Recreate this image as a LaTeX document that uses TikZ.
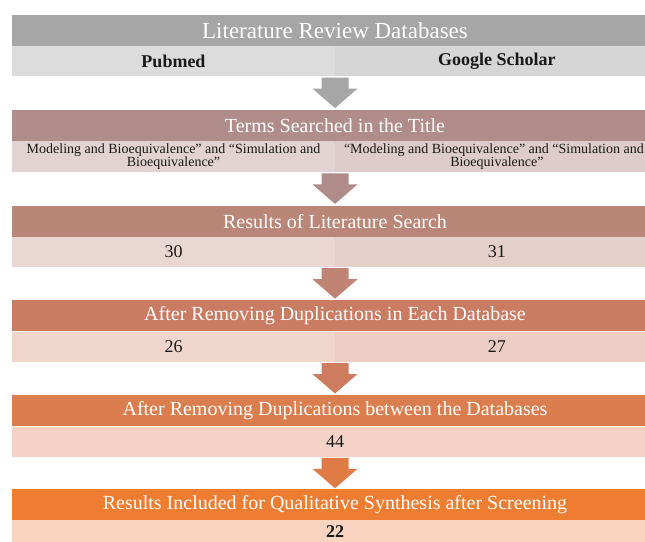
\documentclass[tikz,border=0pt]{standalone}
\usepackage{fontspec}
\setmainfont{Liberation Serif}
\usetikzlibrary{positioning}

\definecolor{headA}{HTML}{A6A6A6}
\definecolor{headB}{HTML}{B08D8B}
\definecolor{headC}{HTML}{B98677}
\definecolor{headD}{HTML}{CA7C63}
\definecolor{headE}{HTML}{DA7E50}
\definecolor{headF}{HTML}{EE7D31}
\definecolor{subAl}{HTML}{DCDCDC}
\definecolor{subAr}{HTML}{D6D6D6}
\definecolor{subBl}{HTML}{E2D3D2}
\definecolor{subBr}{HTML}{DDCCCB}
\definecolor{subCl}{HTML}{EAD7D3}
\definecolor{subCr}{HTML}{E5CFCA}
\definecolor{subDl}{HTML}{F0D5CC}
\definecolor{subDr}{HTML}{EBCDC3}
\definecolor{subE}{HTML}{F4D3C6}
\definecolor{subF}{HTML}{FAD4C1}
\definecolor{arrA}{HTML}{A6A6A6}
\definecolor{arrB}{HTML}{AF8B8A}
\definecolor{arrC}{HTML}{BF8474}
\definecolor{arrD}{HTML}{CE7C5F}
\definecolor{arrE}{HTML}{DF7B45}

\tikzset{
	bandhead/.style={minimum width=646pt, minimum height=31pt, inner sep=0pt, text=white, font=\fontsize{20}{22}\selectfont},
	bandsub/.style={minimum width=323pt, minimum height=30pt, inner sep=0pt, text=black!90, font=\fontsize{18}{20}\selectfont},
	bandwide/.style={bandsub, minimum width=646pt},
	termsub/.style={bandsub, minimum height=31pt, align=center, font=\fontsize{14}{13}\selectfont},
	pics/downarrow/.style={code={
		\fill[#1] (-13.5,1) -- (13.5,1) -- (13.5,12) -- (22.5,12) -- (0,31.5) -- (-22.5,12) -- (-13.5,12) -- cycle;
	}}
}

\begin{document}
\begin{tikzpicture}[x=1pt, y=-1pt]
		\useasboundingbox (0,0) rectangle (645,541);
		\fill[white] (0,0) rectangle (645,541);
		\node[bandhead, fill=headA, font=\fontsize{23}{25}\selectfont] (h1) at (335,30.5) {Literature Review Databases};
		\node[bandsub, fill=subAl, below right=0pt and 0pt of h1.south west] (s1l) {\textbf{Pubmed}};
		\node[bandsub, fill=subAr, right=0pt of s1l] (s1r) {\textbf{Google Scholar}};
		\pic at (h1.south |- s1l.south) {downarrow=arrA};
		\node[bandhead, fill=headB, below right=33pt and 0pt of s1l.south west] (h2) {Terms Searched in the Title};
		\node[termsub, fill=subBl, below right=0pt and 0pt of h2.south west] (s2l) {Modeling and Bioequivalence” and “Simulation and\\Bioequivalence”};
		\node[termsub, fill=subBr, right=0pt of s2l] (s2r) {\hspace*{-6pt}“Modeling and Bioequivalence” and “Simulation and\\Bioequivalence”};
		\pic at (h2.south |- s2l.south) {downarrow=arrB};
		\node[bandhead, fill=headC, below right=33pt and 0pt of s2l.south west] (h3) {Results of Literature Search};
		\node[bandsub, fill=subCl, below right=0pt and 0pt of h3.south west] (s3l) {30};
		\node[bandsub, fill=subCr, right=0pt of s3l] (s3r) {31};
		\pic at (h3.south |- s3l.south) {downarrow=arrC};
		\node[bandhead, fill=headD, below right=33pt and 0pt of s3l.south west] (h4) {After Removing Duplications in Each Database};
		\node[bandsub, fill=subDl, below right=0pt and 0pt of h4.south west] (s4l) {26};
		\node[bandsub, fill=subDr, right=0pt of s4l] (s4r) {27};
		\pic at (h4.south |- s4l.south) {downarrow=arrD};
		\node[bandhead, fill=headE, below right=33pt and 0pt of s4l.south west] (h5) {After Removing Duplications between the Databases};
		\node[bandwide, fill=subE, below=0pt of h5] (s5) {44};
		\pic at (s5.south) {downarrow=arrE};
		\node[bandhead, fill=headF, below=32pt of s5] (h6) {Results Included for Qualitative Synthesis after Screening};
		\node[bandwide, fill=subF, below=0pt of h6, minimum height=22pt] (s6) {\textbf{22}};
	\end{tikzpicture}
\end{document}
